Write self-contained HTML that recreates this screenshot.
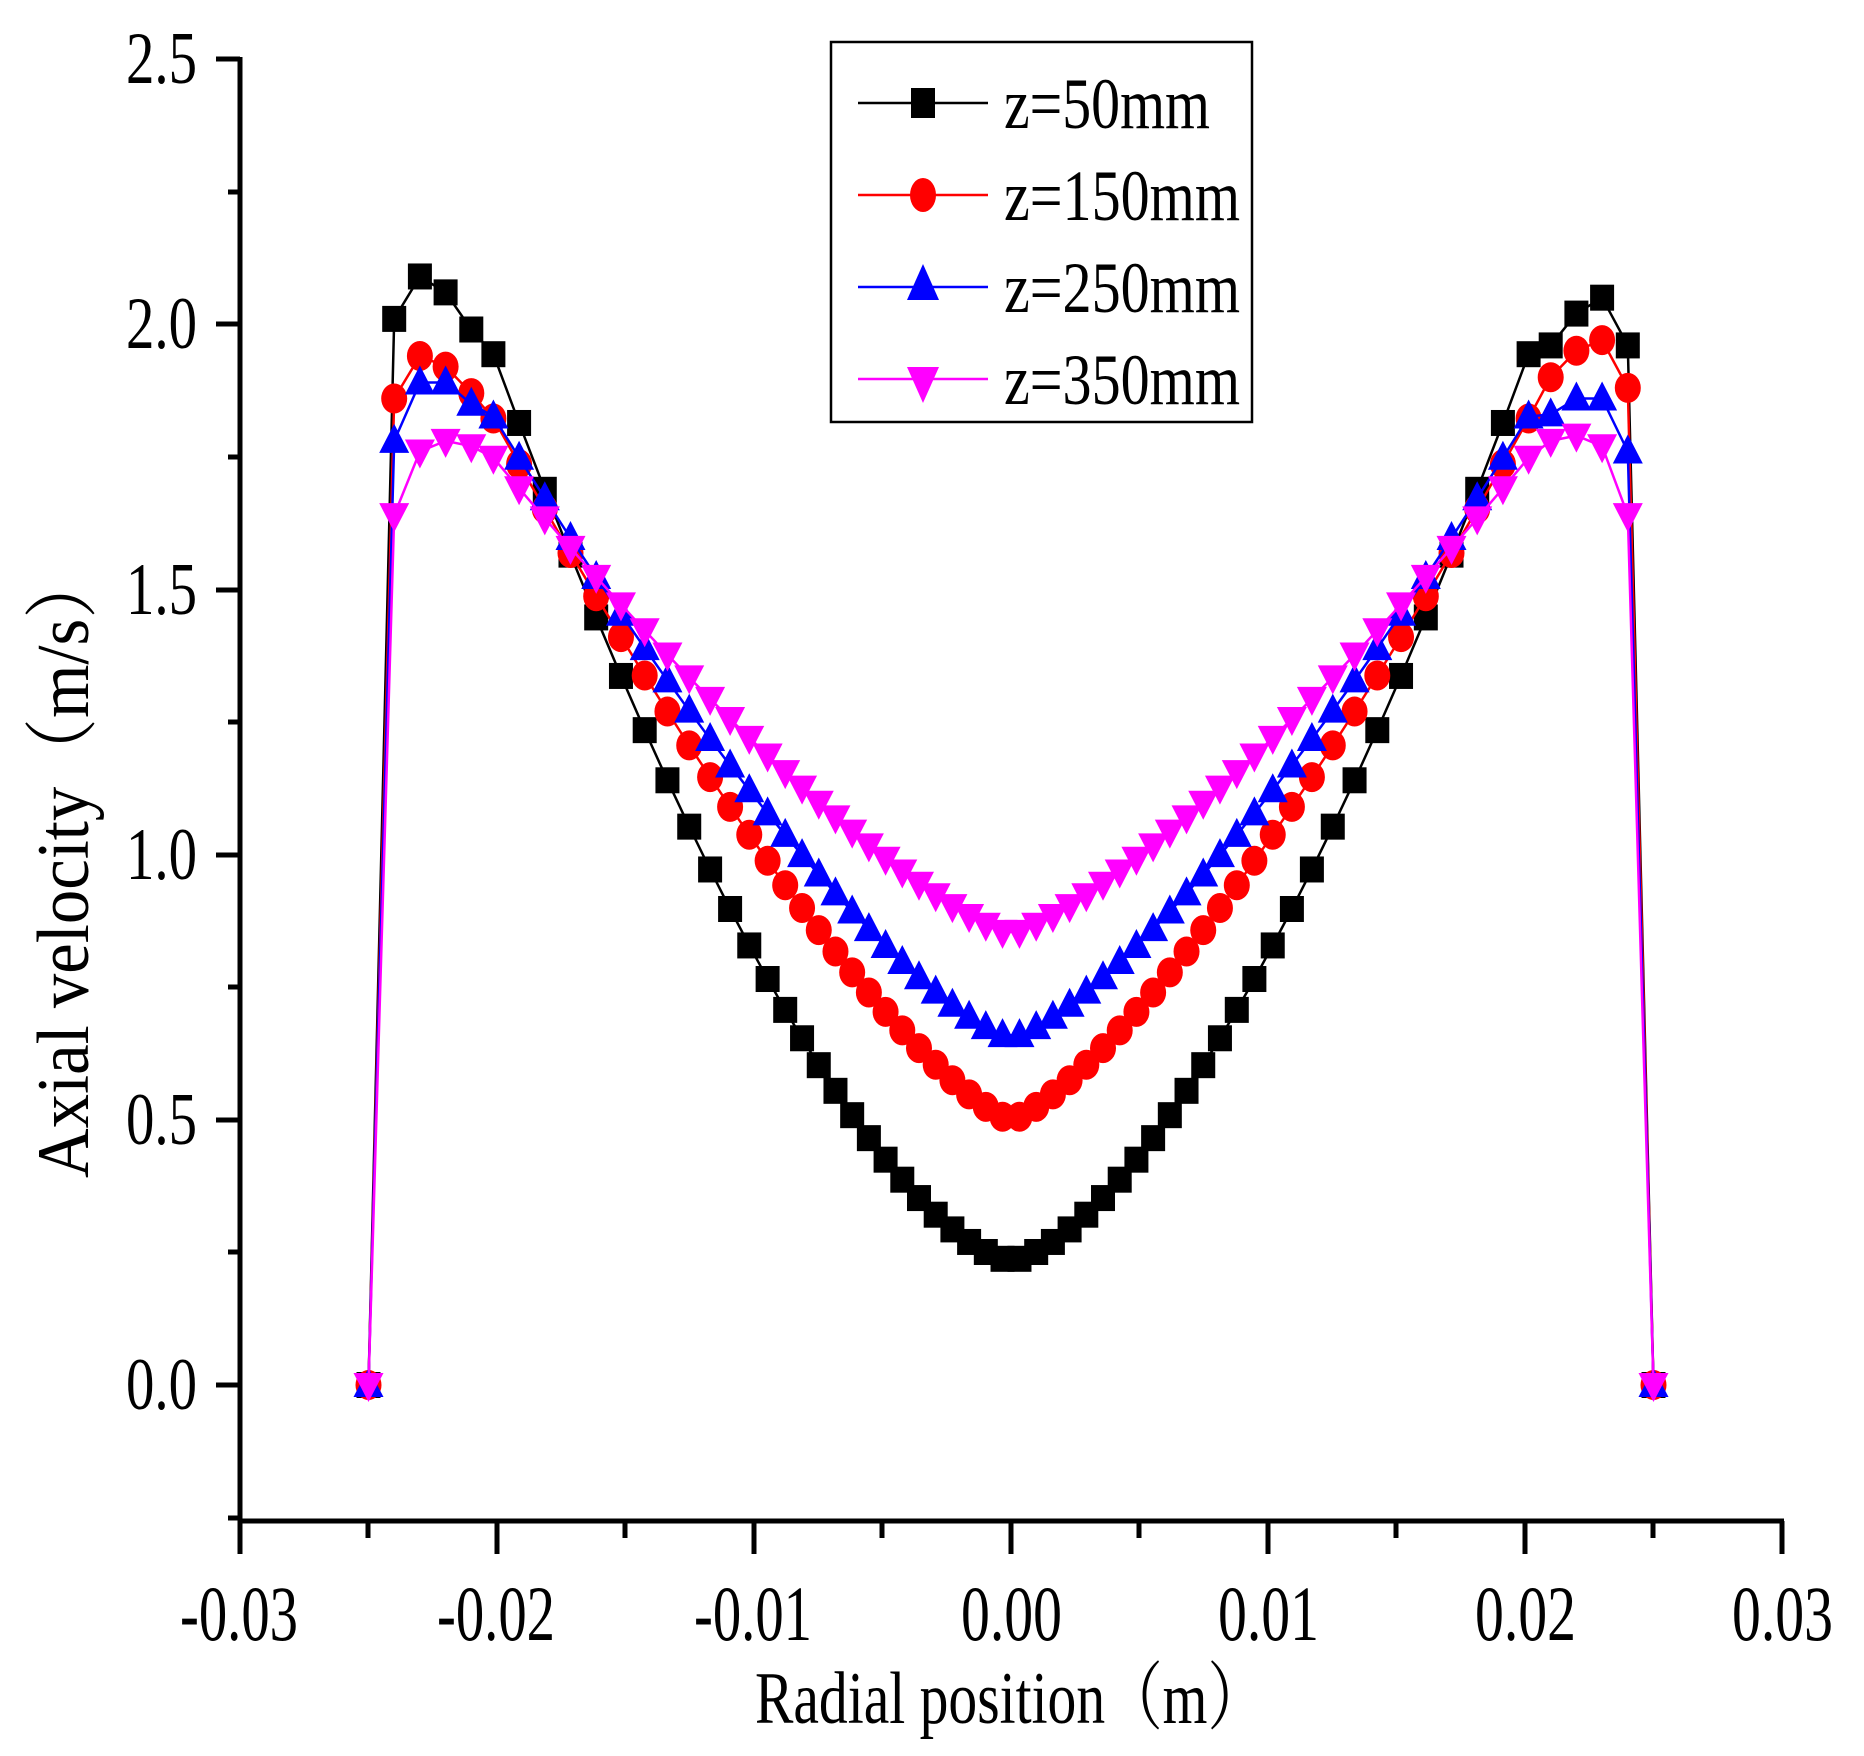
<!DOCTYPE html>
<html><head><meta charset="utf-8"><style>html,body{margin:0;padding:0;background:#fff}svg{display:block}</style></head>
<body>
<svg id="s" width="1864" height="1756" viewBox="0 0 1864 1756" xmlns="http://www.w3.org/2000/svg" font-family="'Liberation Serif', serif">
<g stroke="#000" stroke-width="5" fill="none">
<line x1="240" y1="57" x2="240" y2="1521"/>
<line x1="238" y1="1521" x2="1784" y2="1521"/>
<line x1="216" y1="59" x2="240" y2="59"/><line x1="228" y1="192" x2="240" y2="192"/>
<line x1="216" y1="324" x2="240" y2="324"/><line x1="228" y1="457" x2="240" y2="457"/>
<line x1="216" y1="590" x2="240" y2="590"/><line x1="228" y1="722" x2="240" y2="722"/>
<line x1="216" y1="855" x2="240" y2="855"/><line x1="228" y1="987" x2="240" y2="987"/>
<line x1="216" y1="1120" x2="240" y2="1120"/><line x1="228" y1="1252" x2="240" y2="1252"/>
<line x1="216" y1="1385" x2="240" y2="1385"/><line x1="228" y1="1518" x2="240" y2="1518"/>
<line x1="240" y1="1521" x2="240" y2="1554"/><line x1="368" y1="1521" x2="368" y2="1538"/>
<line x1="497" y1="1521" x2="497" y2="1554"/><line x1="625" y1="1521" x2="625" y2="1538"/>
<line x1="754" y1="1521" x2="754" y2="1554"/><line x1="882" y1="1521" x2="882" y2="1538"/>
<line x1="1011" y1="1521" x2="1011" y2="1554"/><line x1="1139" y1="1521" x2="1139" y2="1538"/>
<line x1="1268" y1="1521" x2="1268" y2="1554"/><line x1="1396" y1="1521" x2="1396" y2="1538"/>
<line x1="1525" y1="1521" x2="1525" y2="1554"/><line x1="1653" y1="1521" x2="1653" y2="1538"/>
<line x1="1782" y1="1521" x2="1782" y2="1554"/>
</g>
<g font-size="74" text-anchor="end" fill="#000">
<text x="197" y="83" textLength="71" lengthAdjust="spacingAndGlyphs">2.5</text>
<text x="197" y="348" textLength="71" lengthAdjust="spacingAndGlyphs">2.0</text>
<text x="197" y="614" textLength="71" lengthAdjust="spacingAndGlyphs">1.5</text>
<text x="197" y="879" textLength="71" lengthAdjust="spacingAndGlyphs">1.0</text>
<text x="197" y="1144" textLength="71" lengthAdjust="spacingAndGlyphs">0.5</text>
<text x="197" y="1409" textLength="71" lengthAdjust="spacingAndGlyphs">0.0</text>
</g>
<g font-size="78" fill="#000">
<text x="180" y="1640" textLength="118" lengthAdjust="spacingAndGlyphs">-0.03</text>
<text x="437" y="1640" textLength="118" lengthAdjust="spacingAndGlyphs">-0.02</text>
<text x="694" y="1640" textLength="118" lengthAdjust="spacingAndGlyphs">-0.01</text>
<text x="961" y="1640" textLength="101" lengthAdjust="spacingAndGlyphs">0.00</text>
<text x="1218" y="1640" textLength="101" lengthAdjust="spacingAndGlyphs">0.01</text>
<text x="1475" y="1640" textLength="101" lengthAdjust="spacingAndGlyphs">0.02</text>
<text x="1732" y="1640" textLength="101" lengthAdjust="spacingAndGlyphs">0.03</text>
</g>
<text x="755" y="1723" font-size="74" font-family="'Liberation Serif','Noto Serif CJK SC',serif" textLength="510" lengthAdjust="spacingAndGlyphs">Radial position（m）</text>
<text transform="translate(88,1178) rotate(-90)" font-size="74" font-family="'Liberation Serif','Noto Serif CJK SC',serif" textLength="628" lengthAdjust="spacingAndGlyphs">Axial velocity（m/s）</text>
<g id="plot"></g>
<rect x="831" y="42" width="421" height="380" fill="#fff" stroke="#000" stroke-width="2.5"/>
<g stroke-width="2.5">
<line x1="858" y1="103" x2="988" y2="103" stroke="#000"/>
<line x1="858" y1="195" x2="988" y2="195" stroke="#f00"/>
<line x1="858" y1="287" x2="988" y2="287" stroke="#00f"/>
<line x1="858" y1="379" x2="988" y2="379" stroke="#f0f"/>
</g>
<rect x="911" y="88" width="24" height="30" fill="#000"/>
<ellipse cx="923" cy="195" rx="13" ry="17" fill="#f00"/>
<polygon points="923,264 907,300 939,300" fill="#00f"/>
<polygon points="907,367 939,367 923,403" fill="#f0f"/>
<g font-size="72" fill="#000">
<text x="1004" y="128" textLength="206" lengthAdjust="spacingAndGlyphs">z=50mm</text>
<text x="1004" y="220" textLength="236" lengthAdjust="spacingAndGlyphs">z=150mm</text>
<text x="1004" y="312" textLength="236" lengthAdjust="spacingAndGlyphs">z=250mm</text>
<text x="1004" y="404" textLength="236" lengthAdjust="spacingAndGlyphs">z=350mm</text>
</g>
</svg>
<script>
(function(){
var X=function(v){return 1011+v*25700;}, Y=function(v){return 1385-v*530.4;};
var xs=[];var x=0.00033;
while(x<0.0205){xs.push(x);var t=Math.min(Math.max((x-0.008)/0.008,0),1);x+=0.00065+0.00035*t;}
var series=[
 {c:"#000",m:"sq",c0:0.235,k:1.69,p:1.55,L:[2.01,2.09,2.06,1.99],R:[1.96,2.02,2.05,1.96]},
 {c:"#f00",m:"ci",c0:0.50,k:1.31,p:1.32,L:[1.86,1.94,1.92,1.87],R:[1.90,1.95,1.97,1.88]},
 {c:"#00f",m:"tu",c0:0.655,k:1.16,p:1.35,L:[1.78,1.89,1.89,1.85],R:[1.83,1.86,1.86,1.76]},
 {c:"#f0f",m:"td",c0:0.85,k:0.89,p:1.3,L:[1.64,1.76,1.78,1.77],R:[1.78,1.79,1.77,1.64]}
];
var g=document.getElementById("plot"),h="";
series.forEach(function(s){
 var f=function(a){return s.c0+s.k*Math.pow(a/0.02,s.p);};
 var pts=[];
 pts.push([-0.025,0]);
 for(var i=0;i<4;i++)pts.push([-0.024+i*0.001,s.L[i]]);
 for(var j=xs.length-1;j>=0;j--)if(xs[j]<0.0205)pts.push([-xs[j],f(xs[j])]);
 for(j=0;j<xs.length;j++)pts.push([xs[j],f(xs[j])]);
 for(i=0;i<4;i++)pts.push([0.021+i*0.001,s.R[i]]);
 pts.push([0.025,0]);
 pts=pts.filter(function(p){var a=Math.abs(p[0]);return !(a>0.0202&&a<0.0208);});
 pts.sort(function(a,b){return a[0]-b[0];});
 h+='<polyline fill="none" stroke="'+s.c+'" stroke-width="2.5" points="'+pts.map(function(p){return X(p[0]).toFixed(1)+","+Y(p[1]).toFixed(1);}).join(" ")+'"/>';
 pts.forEach(function(p){var cx=X(p[0]),cy=Y(p[1]);
  if(s.m=="sq")h+='<rect x="'+(cx-12)+'" y="'+(cy-13)+'" width="24" height="26" fill="#000"/>';
  else if(s.m=="ci")h+='<ellipse cx="'+cx+'" cy="'+cy+'" rx="13" ry="15" fill="#f00"/>';
  else if(s.m=="tu")h+='<polygon points="'+cx+','+(cy-17)+' '+(cx-15)+','+(cy+12)+' '+(cx+15)+','+(cy+12)+'" fill="#00f"/>';
  else h+='<polygon points="'+(cx-15)+','+(cy-12)+' '+(cx+15)+','+(cy-12)+' '+cx+','+(cy+17)+'" fill="#f0f"/>';
 });
});
g.innerHTML=h;
})();
</script>
</body></html>
